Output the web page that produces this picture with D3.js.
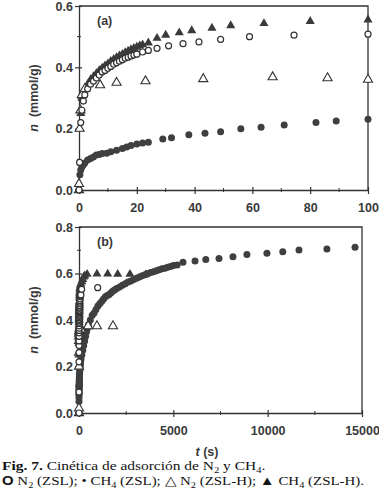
<!DOCTYPE html>
<html>
  <head>
    <style>
      body, html { margin: 0; padding: 0; background: #fff; }
      svg { display: block; }
      .tk text { font-family: Arial, 'Liberation Sans', sans-serif; font-size: 12.5px; font-weight: bold; fill: #3a3a3a; }
    </style>
  </head>
  <body>
    <svg id="svg" width="379" height="504"></svg>
    <script src="https://cdn.jsdelivr.net/npm/d3@7"></script>
    <script>
      // [t (s), n (mmol/g)]
      const n2ZSL = [[0,0.0],[0.2,0.09],[0.6,0.22],[1,0.26],[1.5,0.29],[2,0.31],[3,0.33],[4,0.345],[5,0.355],[6,0.365],[7,0.375],[8,0.385],[9,0.39],[10,0.397],[11,0.403],[12,0.41],[13,0.415],[14,0.42],[15,0.425],[16,0.43],[17,0.433],[18,0.437],[19,0.44],[20,0.443],[22,0.45],[24,0.455],[27,0.462],[31,0.47],[36,0.477],[41.5,0.483],[49,0.491],[59,0.5],[74.4,0.505],[100,0.508],[140,0.532],[990,0.539]];
      const ch4ZSL = [[0,0.0],[0.3,0.05],[0.6,0.065],[1,0.075],[1.5,0.082],[2,0.088],[3,0.098],[4,0.103],[5,0.108],[6,0.114],[7,0.116],[8,0.119],[9.6,0.12],[11,0.125],[13,0.13],[15,0.135],[16.5,0.14],[18,0.145],[20,0.15],[22,0.153],[24,0.156],[29,0.166],[32,0.17],[38,0.18],[43.6,0.185],[49,0.19],[56,0.2],[63,0.205],[71,0.212],[82,0.22],[89,0.225],[100,0.231],
        [150,0.25],[200,0.27],[250,0.29],[300,0.31],[350,0.33],[400,0.35],[450,0.365],[500,0.38],[600,0.4],[700,0.42],[800,0.43],[900,0.445],[1000,0.46],[1100,0.47],[1200,0.48],[1300,0.49],[1400,0.5],[1500,0.505],[1600,0.51],[1700,0.517],[1800,0.525],[1900,0.53],[2000,0.535],[2150,0.542],[2300,0.55],[2450,0.556],[2600,0.563],[2750,0.568],[2900,0.574],[3050,0.58],[3200,0.585],[3350,0.59],[3500,0.595],[3650,0.6],[3800,0.604],[3950,0.608],[4100,0.612],[4250,0.616],[4400,0.62],[4550,0.623],[4700,0.627],[4850,0.63],[5000,0.634],[5200,0.637],[5511,0.648],[6150,0.654],[6720,0.66],[7420,0.664],[8160,0.672],[8900,0.682],[9960,0.687],[10800,0.694],[11660,0.701],[13140,0.705],[14630,0.713]];
      const n2ZSLH = [[0,0.0],[0,0.02],[0.2,0.2],[0.5,0.26],[1,0.31],[2,0.33],[7.3,0.342],[13,0.35],[23,0.355],[43,0.362],[67,0.368],[86,0.365],[100,0.36],[480,0.374],[950,0.374],[1800,0.374]];
      const ch4ZSLH = [[0,0.0],[0.3,0.2],[0.6,0.25],[1,0.3],[1.5,0.32],[2,0.33],[3,0.345],[4,0.36],[5,0.37],[6,0.38],[7,0.39],[8,0.398],[9,0.405],[10,0.412],[11,0.42],[12,0.426],[13,0.432],[14,0.438],[15,0.443],[16,0.448],[17,0.453],[18,0.458],[19,0.462],[20,0.466],[21,0.47],[22,0.474],[24,0.48],[27,0.495],[30,0.505],[34.7,0.513],[39,0.52],[46,0.528],[52.5,0.536],[64,0.543],[80,0.55],[100,0.555],[150,0.565],[200,0.575],[250,0.585],[300,0.59],[430,0.597],[950,0.598],[1520,0.598],[2050,0.597],[2700,0.597],[3530,0.595]];

      const xTicksA = [0, 20, 40, 60, 80, 100];
      const yTicksA = [0.0, 0.2, 0.4, 0.6];
      const xTicksB = [0, 5000, 10000, 15000];
      const yTicksB = [0.0, 0.2, 0.4, 0.6, 0.8];

      const ink = '#333';
      const svg = d3.select('#svg');

      function panel(opts) {
        const x = d3.scaleLinear().domain(opts.xDom).range(opts.xRange);
        const y = d3.scaleLinear().domain(opts.yDom).range(opts.yRange);
        const g = svg.append('g');
        const [x0, x1] = opts.xRange;
        const [y0, y1] = opts.yRange;

        // frame
        g.append('path')
          .attr('d', `M${x0},${y1}H${x1}V${y0}`)
          .attr('fill', 'none').attr('stroke', ink).attr('stroke-width', 1.3);

        // x axis
        const xa = g.append('g').attr('class', 'tk')
          .attr('transform', `translate(0,${y0})`)
          .call(d3.axisBottom(x).tickValues(opts.xTicks).tickFormat(d3.format('d')).tickSize(0));
        xa.select('.domain').attr('stroke', ink).attr('stroke-width', 1.3);
        xa.selectAll('.tick line').attr('y1', -3).attr('y2', 4).attr('stroke', ink).attr('stroke-width', 1.2);
        xa.selectAll('.tick text').attr('y', 13).attr('dy', '0.71em').attr('fill', '#3a3a3a');
        g.append('g').selectAll('line').data(opts.xMinor).join('line')
          .attr('x1', d => x(d)).attr('x2', d => x(d))
          .attr('y1', y0 - 2).attr('y2', y0 + 2)
          .attr('stroke', ink).attr('stroke-width', 1);

        // y axis
        const ya = g.append('g').attr('class', 'tk')
          .attr('transform', `translate(${x0},0)`)
          .call(d3.axisLeft(y).tickValues(opts.yTicks).tickFormat(d3.format('.1f')).tickSize(0));
        ya.select('.domain').attr('stroke', ink).attr('stroke-width', 1.3);
        ya.selectAll('.tick line').attr('x1', -4).attr('x2', 3).attr('stroke', ink).attr('stroke-width', 1.2);
        ya.selectAll('.tick text').attr('x', -6).attr('fill', '#3a3a3a');
        g.append('g').selectAll('line').data(opts.yMinor).join('line')
          .attr('y1', d => y(d)).attr('y2', d => y(d))
          .attr('x1', x0 - 2).attr('x2', x0 + 2)
          .attr('stroke', ink).attr('stroke-width', 1);

        // y title
        const yt = g.append('text')
          .attr('transform', `translate(38,${(y0 + y1) / 2}) rotate(-90)`)
          .attr('text-anchor', 'middle')
          .style('font-family', 'Arial, sans-serif').style('font-size', '12.5px').style('font-weight', 'bold').attr('fill', '#3a3a3a');
        yt.append('tspan').text('n').style('font-style', 'italic');
        yt.append('tspan').text('\u00a0 (mmol/g)');

        // panel tag
        g.append('text').attr('x', x0 + 18).attr('y', y1 + 19).text(opts.tag)
          .style('font-family', 'Arial, sans-serif').style('font-size', '12.5px').style('font-weight', 'bold').attr('fill', '#3a3a3a');

        const keep = d => d[0] <= opts.xDom[1];
        const tri = d3.symbol().type(d3.symbolTriangle).size(36);

        g.append('g').selectAll('path').data(ch4ZSLH.filter(keep)).join('path')
          .attr('d', tri).attr('transform', d => `translate(${x(d[0])},${y(d[1])})`)
          .attr('fill', '#3a3a3a');
        g.append('g').selectAll('circle').data(ch4ZSL.filter(keep)).join('circle')
          .attr('cx', d => x(d[0])).attr('cy', d => y(d[1])).attr('r', 3.5)
          .attr('fill', '#3f3f3f');
        g.append('g').selectAll('path').data(n2ZSLH.filter(keep)).join('path')
          .attr('d', tri).attr('transform', d => `translate(${x(d[0])},${y(d[1])})`)
          .attr('fill', '#fff').attr('stroke', ink).attr('stroke-width', 1.1);
        g.append('g').selectAll('circle').data(n2ZSL.filter(keep)).join('circle')
          .attr('cx', d => x(d[0])).attr('cy', d => y(d[1])).attr('r', 3)
          .attr('fill', '#fff').attr('stroke', ink).attr('stroke-width', 1.2);
      }

      panel({
        xDom: [0, 100], xRange: [79, 368], yDom: [0, 0.6], yRange: [190, 6],
        xTicks: xTicksA, yTicks: yTicksA, xMinor: [10, 30, 50, 70, 90], yMinor: [0.1, 0.3, 0.5], tag: '(a)'
      });
      panel({
        xDom: [0, 15000], xRange: [79, 362], yDom: [0, 0.8], yRange: [413, 227],
        xTicks: xTicksB, yTicks: yTicksB, xMinor: [2500, 7500, 12500], yMinor: [0.1, 0.3, 0.5, 0.7], tag: '(b)'
      });

      // x title
      const xt = svg.append('text').attr('x', 207).attr('y', 456).attr('text-anchor', 'middle')
        .style('font-family', 'Arial, sans-serif').style('font-size', '12.5px').style('font-weight', 'bold').attr('fill', '#3a3a3a');
      xt.append('tspan').text('t').style('font-style', 'italic');
      xt.append('tspan').text('\u00a0(s)');

      // caption
      const cap = svg.append('g').style('font-family', "'Liberation Serif', 'Times New Roman', serif").style('font-size', '13px').attr('fill', '#111');
      const c1 = cap.append('text').attr('transform', 'translate(2,470) scale(1.19,1)');
      c1.append('tspan').text('Fig. 7.').style('font-weight', 'bold');
      c1.append('tspan').text(' Cinética de adsorción de N');
      c1.append('tspan').text('2').attr('dy', 3).style('font-size', '9px');
      c1.append('tspan').text(' y CH').attr('dy', -3);
      c1.append('tspan').text('4').attr('dy', 3).style('font-size', '9px');
      c1.append('tspan').text('.').attr('dy', -3);

      const c2 = cap.append('text').attr('transform', 'translate(2,485) scale(1.15,1)');
      const parts = [
        ['O', 'sym'], [' N', ''], ['2', 'sub'], [' (ZSL); ', ''],
        ['\u2022', ''], [' CH', ''], ['4', 'sub'], [' (ZSL); ', ''],
        ['\u25b3', ''], [' N', ''], ['2', 'sub'], [' (ZSL-H); ', ''],
        ['\u25b2', ''], [' CH', ''], ['4', 'sub'], [' (ZSL-H).', '']
      ];
      let sub = false;
      parts.forEach(([t, k]) => {
        const s = c2.append('tspan').text(t);
        if (k === 'sub') { s.attr('dy', 3).style('font-size', '9px'); sub = true; }
        else if (sub) { s.attr('dy', -3); sub = false; }
        if (k === 'sym') s.style('font-family', 'Arial, sans-serif').style('font-weight', 'bold');
      });
    </script>
  </body>
</html>
